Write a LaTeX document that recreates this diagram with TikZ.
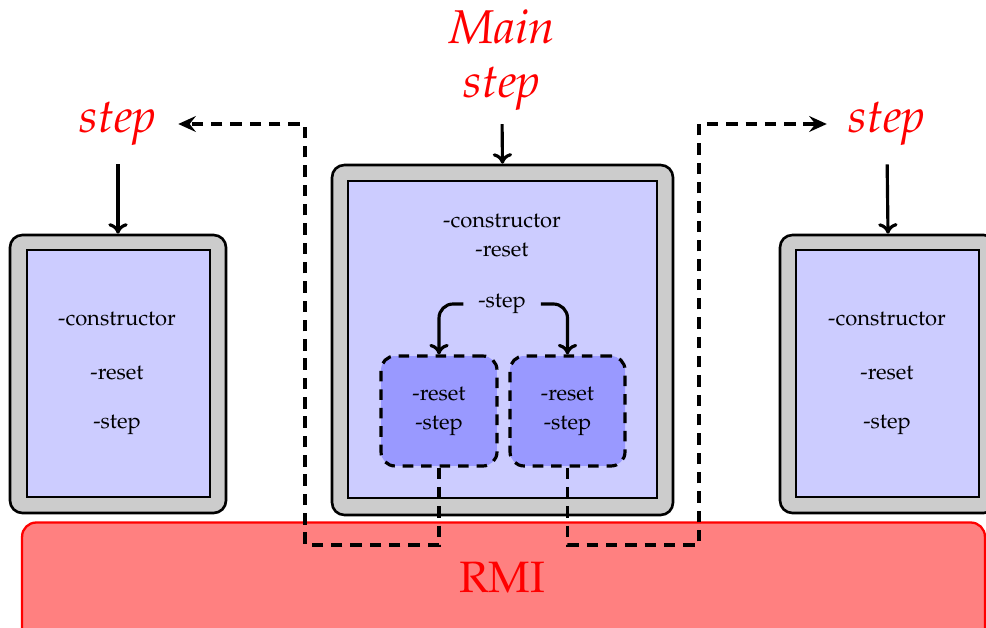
\documentclass[tikz,border=0pt]{standalone}
\usepackage[T1]{fontenc}
\usepackage{mathpazo}
\usepackage{tikz}
\usetikzlibrary{
	arrows.meta,
	positioning,
	calc
}

\tikzset{
  outerbox/.style={draw, line width=1.5pt, fill=gray!40, rounded corners=7pt, inner sep=0pt},
  innerbox/.style={draw, line width=1.5pt, fill=blue!20, inner sep=0pt},
  subbox/.style={draw, dashed, dash pattern=on 6pt off 4.5pt, line width=1.8pt, fill=blue!40, rounded corners=8pt, inner sep=0pt},
  busbox/.style={draw=red, line width=1.3pt, fill=red!50, rounded corners=8pt, inner sep=0pt},
  txt/.style={font=\fontsize{12.5}{16.5}\selectfont, align=center},
  redtxt/.style={font=\fontsize{27}{31}\selectfont\itshape, text=red, align=center},
  callarrow/.style={-{To[length=6pt,width=11pt]}, line width=1.8pt},
  msgarrow/.style={-{Stealth[length=10pt,width=9pt,inset=3.5pt]}, dash pattern=on 6.5pt off 4.5pt, line width=1.8pt}
}

\begin{document}
\begin{tikzpicture}[x=0.02cm, y=-0.02cm]

\useasboundingbox (0,0) rectangle (986,628);
\clip (0,0) rectangle (986,628);

% RMI bus
\node[busbox, minimum width=19.26cm, minimum height=2.5cm] (rmi) at (503.5,585) {};
\node[font=\fontsize{25}{30}\selectfont, text=red] (rmilabel) at (502,577) {RMI};

% Left box
\node[outerbox, minimum width=4.32cm, minimum height=5.56cm] (lout) at (118,374) {};
\node[innerbox, minimum width=3.66cm, minimum height=4.94cm] (lin) at (118.5,373.5) {};
\node[txt] (lcons) at (117,319) {-constructor};
\node[txt] (lreset) at (117,373) {-reset};
\node[txt] (lstepm) at (117,425) {-step};

% Right box
\node[outerbox, minimum width=4.32cm, minimum height=5.56cm] (rout) at (888,374) {};
\node[innerbox, minimum width=3.66cm, minimum height=4.94cm] (rin) at (887.5,373.5) {};
\node[txt] (rcons) at (887,319) {-constructor};
\node[txt] (rreset) at (887,373) {-reset};
\node[txt] (rstepm) at (887,425) {-step};

% Main box
\node[outerbox, minimum width=6.82cm, minimum height=7.0cm] (mout) at (502.5,340) {};
\node[innerbox, minimum width=6.18cm, minimum height=6.34cm] (min) at (502.5,339.5) {};
\node[txt] (mcons) at (502,236) {-constructor\\-reset};
\node[txt] (mstepm) at (502,304) {-step};

% Sub boxes
\node[subbox, minimum width=2.32cm, minimum height=2.2cm] (sub1) at (439,411) {};
\node[txt] at (439,411) {-reset\\-step};
\node[subbox, minimum width=2.3cm, minimum height=2.2cm] (sub2) at (567.5,411) {};
\node[txt] at (567.5,411) {-reset\\-step};

% Step labels
\node[redtxt] (mainstep) at (502,60) {Main\\step};
\node[redtxt] (lstep) at (118,124) {step};
\node[redtxt] (rstep) at (887,124) {step};

% Calls
\draw[callarrow, shorten <=4pt] (mainstep.south) -- (mout.north);
\draw[callarrow, shorten <=7pt] (lstep.south) -- (lout.north);
\draw[callarrow, shorten <=7pt] (rstep.south) -- (rout.north);
\draw[callarrow, rounded corners=8pt, shorten <=5pt] (mstepm.west) -| (sub1.north);
\draw[callarrow, rounded corners=8pt, shorten <=5pt] (mstepm.east) -| (sub2.north);

% Remote steps through RMI
\coordinate (lbend) at (305,545);
\coordinate (rbend) at (699,545);
\draw[msgarrow, shorten >=9pt] (sub1.south) |- (lbend) |- (lstep.east);
\draw[msgarrow, shorten >=9pt] (sub2.south) |- (rbend) |- (rstep.west);

\end{tikzpicture}
\end{document}
